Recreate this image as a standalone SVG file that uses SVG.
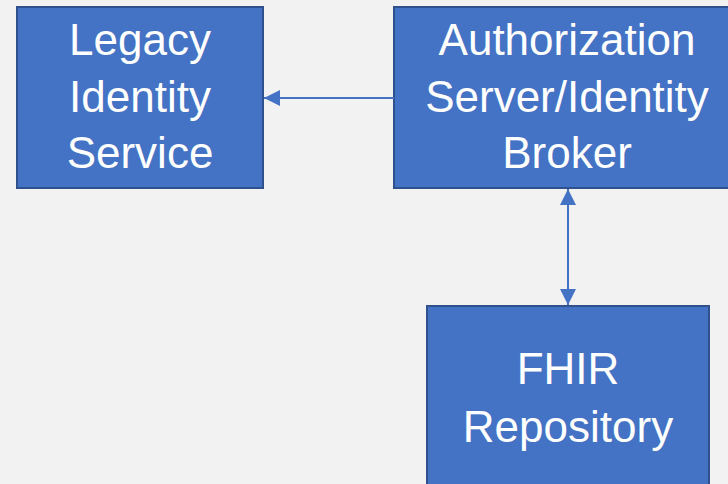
<svg xmlns="http://www.w3.org/2000/svg" width="728" height="484" viewBox="0 0 728 484">
  <style>
    .box { fill: #4472C4; stroke: #2F528F; stroke-width: 2; }
    .label { fill: #FFFFFF; font-family: "Liberation Sans", Arial, sans-serif; font-size: 44px; text-anchor: middle; }
    .link { stroke: #4472C4; stroke-width: 2; fill: none; }
  </style>
  <defs>
    <marker id="head" viewBox="0 0 16 16" refX="16" refY="8" markerWidth="16" markerHeight="16" markerUnits="userSpaceOnUse" orient="auto-start-reverse">
      <path d="M0,0 L16,8 L0,16 Z" fill="#4472C4"/>
    </marker>
  </defs>
  <rect width="728" height="484" fill="#F2F2F2"/>

  <g id="legacy-identity-service">
    <rect class="box" x="17" y="7" width="246" height="181"/>
    <text class="label" x="140" y="55">Legacy</text>
    <text class="label" x="140" y="112">Identity</text>
    <text class="label" x="140" y="168">Service</text>
  </g>

  <g id="authorization-server">
    <rect class="box" x="394" y="7" width="346" height="181"/>
    <text class="label" x="567" y="55">Authorization</text>
    <text class="label" x="567" y="112">Server/Identity</text>
    <text class="label" x="567" y="168">Broker</text>
  </g>

  <g id="fhir-repository">
    <rect class="box" x="427" y="306" width="282" height="190"/>
    <text class="label" x="568" y="384">FHIR</text>
    <text class="label" x="568" y="442">Repository</text>
  </g>

  <g id="connectors">
    <line class="link" x1="394" y1="98" x2="264" y2="98" marker-end="url(#head)"/>
    <line class="link" x1="568" y1="189" x2="568" y2="305" marker-start="url(#head)" marker-end="url(#head)"/>
  </g>
</svg>
